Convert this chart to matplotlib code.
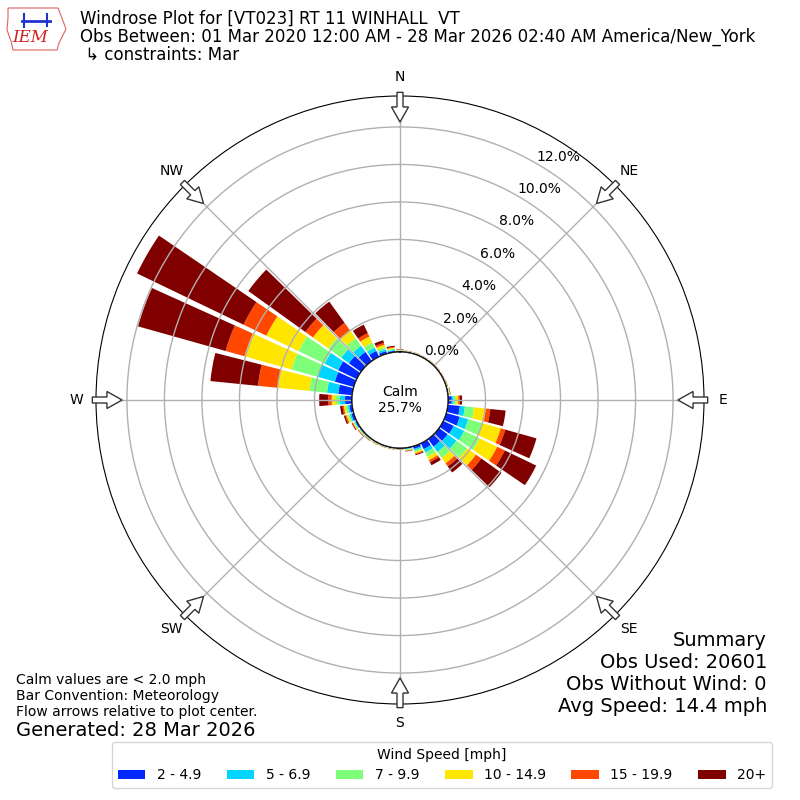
import numpy as np
import matplotlib
matplotlib.use('Agg')
import matplotlib.pyplot as plt
from matplotlib.patches import Circle, FancyArrow, Patch, Polygon

# ── data (percent of observations) ───────────────────────────────────────────
directions = np.arange(0, 360, 10)
speed_labels = ['2 - 4.9', '5 - 6.9', '7 - 9.9', '10 - 14.9', '15 - 19.9', '20+']

spd_2_5 = [0.04, 0.03, 0.03, 0.02, 0.02, 0.02, 0.02, 0.03, 0.04, 0.20, 0.65, 0.75,
           0.62, 0.57, 0.50, 0.35, 0.15, 0.06, 0.03, 0.03, 0.03, 0.04, 0.05, 0.06,
           0.08, 0.14, 0.15, 0.37, 0.75, 1.05, 1.10, 0.80, 0.60, 0.35, 0.15, 0.08]
spd_5_7 = [0.02, 0.01, 0.01, 0.01, 0.01, 0.01, 0.01, 0.01, 0.02, 0.10, 0.27, 0.47,
           0.62, 0.58, 0.35, 0.20, 0.08, 0.03, 0.02, 0.02, 0.02, 0.02, 0.02, 0.03,
           0.05, 0.08, 0.09, 0.27, 0.60, 0.95, 0.80, 0.50, 0.40, 0.20, 0.10, 0.05]
spd_7_10 = [0.03, 0.02, 0.02, 0.02, 0.02, 0.02, 0.02, 0.02, 0.03, 0.12, 0.49, 0.76,
            0.92, 0.70, 0.40, 0.25, 0.09, 0.04, 0.02, 0.02, 0.02, 0.02, 0.03, 0.04,
            0.05, 0.10, 0.11, 0.26, 0.95, 1.45, 1.55, 0.85, 0.50, 0.30, 0.12, 0.06]
spd_10_15 = [0.02, 0.01, 0.01, 0.01, 0.01, 0.01, 0.01, 0.02, 0.03, 0.13, 0.63, 1.04,
             1.03, 0.58, 0.35, 0.20, 0.08, 0.03, 0.01, 0.01, 0.01, 0.02, 0.02, 0.03,
             0.05, 0.09, 0.10, 0.18, 1.70, 2.60, 1.90, 1.00, 0.50, 0.35, 0.13, 0.06]
spd_15_20 = [0.02, 0.01, 0.01, 0.01, 0.01, 0.01, 0.01, 0.01, 0.01, 0.08, 0.24, 0.25,
             0.45, 0.35, 0.20, 0.12, 0.05, 0.02, 0.01, 0.01, 0.01, 0.01, 0.01, 0.02,
             0.03, 0.06, 0.07, 0.18, 1.05, 1.05, 1.35, 0.50, 0.50, 0.20, 0.10, 0.04]
spd_20_up = [0.02, 0.01, 0.01, 0.01, 0.01, 0.01, 0.01, 0.01, 0.02, 0.12, 0.82, 1.73,
             1.86, 1.32, 0.40, 0.18, 0.05, 0.02, 0.01, 0.01, 0.01, 0.01, 0.02, 0.02,
             0.04, 0.08, 0.13, 0.49, 2.55, 4.85, 6.30, 3.75, 1.40, 0.50, 0.15, 0.06]

calm_pct = 25.7
rticks = [0, 2, 4, 6, 8, 10, 12]
compass = ['N', 'NE', 'E', 'SE', 'S', 'SW', 'W', 'NW']

# jet sampled like the windrose code does (first slot is the calm bin)
colors = plt.cm.jet(np.linspace(0, 1, 7))[1:]


def px(x, y):
    """figure pixel (top-left origin) -> figure fraction"""
    return x / 800.0, 1 - y / 800.0


fig = plt.figure(figsize=(8, 8), dpi=100, facecolor='white')
ax = fig.add_axes([0.12, 0.12, 0.76, 0.76], projection='polar')
ax.set_theta_zero_location('N')
ax.set_theta_direction(-1)

theta = np.radians(directions)
width = np.radians(8.6)
series = [spd_2_5, spd_5_7, spd_7_10, spd_10_15, spd_15_20, spd_20_up]
bottom = np.zeros(len(directions))
for vals, col in zip(series, colors):
    vals = np.asarray(vals)
    ax.bar(theta, vals, width=width, bottom=bottom, color=col, lw=0, zorder=1)
    bottom += vals

ax.set_rorigin(-2.56)
ax.set_ylim(0, 13.65)
ax.set_rgrids(rticks, labels=[f'{v:.1f}%' for v in rticks], angle=30, fontsize=10)
ax.set_thetagrids(np.arange(0, 360, 45), labels=compass, fontsize=10)
ax.grid(color='#b0b0b0', lw=1)
ax.spines['polar'].set_color('black')

# calm circle
ax.add_patch(Circle((0.5, 0.5), 48 / 608, transform=ax.transAxes,
                    facecolor='white', edgecolor='black', lw=1, zorder=3))
ax.text(0.5, 0.5, f'Calm\n{calm_pct:.1f}%', transform=ax.transAxes,
        ha='center', va='center', fontsize=10, zorder=4)

# flow arrows at the compass points
for ang in np.arange(0, 360, 45):
    s, c = np.sin(np.radians(ang)), np.cos(np.radians(ang))
    r0, ln = 0.506, 0.049
    ax.add_patch(FancyArrow(0.5 + r0 * s, 0.5 + r0 * c, -ln * s, -ln * c,
                            width=0.0099, head_width=0.028, head_length=0.025,
                            length_includes_head=True, transform=ax.transAxes,
                            facecolor='white', edgecolor='#333333', lw=1,
                            clip_on=False, zorder=5))

# ── header ───────────────────────────────────────────────────────────────────
title = ['Windrose Plot for [VT023] RT 11 WINHALL  VT',
         'Obs Between: 01 Mar 2020 12:00 AM - 28 Mar 2026 02:40 AM America/New_York',
         ' \u21b3 constraints: Mar']
for i, line in enumerate(title):
    fig.text(*px(80, 19 + 18 * i), line, fontsize=12, va='center', ha='left')

# rough IEM logo
iowa = [(8, 8), (58, 8), (60, 13), (63, 21), (66, 29), (62, 37), (59, 43), (57, 50),
        (13, 50), (11, 41), (7, 30), (8, 18)]
fig.add_artist(Polygon([px(x, y) for x, y in iowa], closed=True, transform=fig.transFigure,
                       facecolor='white', edgecolor='#e06060', lw=0.8))
fig.add_artist(plt.Line2D([px(22, 21)[0], px(50, 21)[0]], [px(22, 21)[1], px(50, 21)[1]],
                          color='#2233cc', lw=2, transform=fig.transFigure))
fig.add_artist(plt.Line2D([px(47, 14)[0], px(47, 26)[0]], [px(47, 14)[1], px(47, 26)[1]],
                          color='#2233cc', lw=1.5, transform=fig.transFigure))
fig.add_artist(plt.Line2D([px(24, 14)[0], px(24, 27)[0]], [px(24, 14)[1], px(24, 27)[1]],
                          color='#2233cc', lw=1.5, transform=fig.transFigure))
fig.text(*px(30, 38), 'IEM', fontsize=12, color='#d02020', family='serif',
         style='italic', ha='center', va='center')

# ── footer notes ─────────────────────────────────────────────────────────────
notes = ['Calm values are < 2.0 mph', 'Bar Convention: Meteorology',
         'Flow arrows relative to plot center.']
for i, line in enumerate(notes):
    fig.text(*px(16, 680 + 16 * i), line, fontsize=10, va='center', ha='left')
fig.text(*px(16, 730), 'Generated: 28 Mar 2026', fontsize=14, va='center', ha='left')

summary = ['Summary', 'Obs Used: 20601', 'Obs Without Wind: 0', 'Avg Speed: 14.4 mph']
for i, line in enumerate(summary):
    fig.text(*px(767, 640 + 22 * i), line, fontsize=14, va='center', ha='right')

handles = [Patch(facecolor=c, edgecolor='none') for c in colors]
fig.legend(handles, speed_labels, title='Wind Speed [mph]', ncol=6, fontsize=10,
           title_fontsize=10, loc='lower center', bbox_to_anchor=(442 / 800, 12 / 800),
           borderaxespad=0, handleheight=0.7, handlelength=2.0, columnspacing=1.85)

fig.savefig('out.png', dpi=100, facecolor='white')
